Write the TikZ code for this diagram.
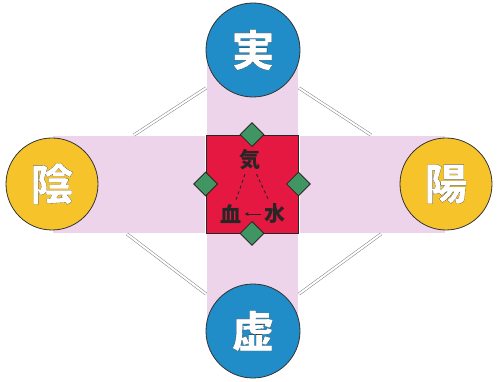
\documentclass[tikz,border=0pt]{standalone}
\usepackage{fontspec}
\newfontfamily\cjk{Noto Sans CJK JP}
\usepackage{xcolor}
\usepackage{tikz}
\usetikzlibrary{positioning, shapes.geometric, arrows.meta}
\definecolor{ballblue}{RGB}{32,140,200}
\definecolor{ballyellow}{RGB}{246,196,42}
\definecolor{bandpink}{RGB}{238,212,234}
\definecolor{corered}{RGB}{228,24,64}
\definecolor{gemgreen}{RGB}{64,150,98}
% white letters with a black rim
\newcommand{\kanji}[1]{\textcolor{white}{\special{pdf:literal 0 0 0 RG 2 Tr 0.06 w 1 j}#1\special{pdf:literal 0 Tr}}}

\begin{document}
\begin{tikzpicture}[x=1pt, y=-1pt,
    band/.style={fill=bandpink, draw=black!50, line width=0.5pt, double=white, double distance=1.2pt},
    strut/.style={draw=black!50, line width=0.5pt, double=white, double distance=2pt},
    ball/.style={draw=black!80, line width=0.8pt, circle, minimum size=94pt, inner sep=0pt, font=\cjk\bfseries\fontsize{43}{43}\selectfont},
    gem/.style={draw=black!85, fill=gemgreen, diamond, minimum size=24pt, inner sep=0pt, line width=0.8pt},
    small/.style={font=\cjk\bfseries\fontsize{21}{21}\selectfont, text=black!85, inner sep=1pt}]
  \useasboundingbox (0,0) rectangle (501,382);
  \fill[white] (0,0) rectangle (501,382);
  % bands
  \draw[band] (52,135) rectangle (446,234);
  \draw[band] (206,50) rectangle (299,330);
  % struts
  \coordinate (tlA) at (206,88);
  \coordinate (tlB) at (134,135);
  \coordinate (trA) at (299,88);
  \coordinate (trB) at (371,135);
  \coordinate (blA) at (127,234);
  \coordinate (blB) at (206,294);
  \coordinate (brA) at (381,234);
  \coordinate (brB) at (299,294);
  \draw[strut] (tlA) -- (tlB);
  \draw[strut] (trA) -- (trB);
  \draw[strut] (blA) -- (blB);
  \draw[strut] (brA) -- (brB);
  % balls
  \node[ball, fill=ballblue] (jitsu) at (253,50) {\kanji{実}};
  \node[ball, fill=ballblue] (kyo) at (253,331) {\kanji{虚}};
  \node[ball, fill=ballyellow, minimum size=92pt] (yin) at (52,184) {\kanji{陰}};
  \node[ball, fill=ballyellow, minimum size=92pt] (yang) at (446,184) {\kanji{陽}};
  % core
  \node[draw=black!85, fill=corered, line width=0.8pt, minimum width=92pt, minimum height=98pt] (core) at (252,184) {};
  \node[gem] (gn) at (core.north) {};
  \node[gem] (gs) at (core.south) {};
  \node[gem] (gw) at (core.west) {};
  \node[gem] (ge) at (core.east) {};
  \node[small] (qi) at (250,160) {気};
  \node[small] (blood) at (231,214) {血};
  \node[small] (water) at (275,214) {水};
  \draw[black!85, dashed, line width=0.9pt, shorten <=3pt, shorten >=4pt] (qi) -- (blood);
  \draw[black!85, dashed, line width=0.9pt, shorten <=3pt, shorten >=4pt] (qi) -- (water);
  \draw[black!85, -{Stealth[length=4pt,width=4pt]}, line width=0.9pt, shorten <=2pt, shorten >=2pt] (water) -- (blood);
\end{tikzpicture}
\end{document}
